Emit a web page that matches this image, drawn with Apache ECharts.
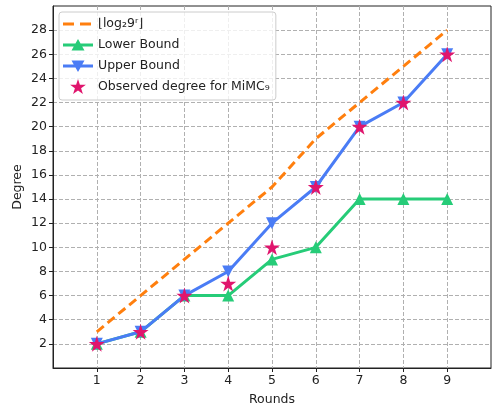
<!DOCTYPE html>
<html><head><meta charset="utf-8">
<script src="https://cdn.jsdelivr.net/npm/echarts@6/dist/echarts.min.js"></script>
<style>html,body{margin:0;padding:0;background:#fff}#c{width:493px;height:408px}</style>
</head><body><div id="c"></div>
<script>
const rounds = [1,2,3,4,5,6,7,8,9];
const floorLog = [3,6,9,12,15,19,22,25,28];
const lowerBound = [2,3,6,6,9,10,14,14,14];
const upperBound = [2,3,6,8,12,15,20,22,26];
const observed = [2,3,6,7,10,15,20,22,26];
const xTicks = [1,2,3,4,5,6,7,8,9];
const yTicks = [2,4,6,8,10,12,14,16,18,20,22,24,26,28];

const pair = (ys) => rounds.map((r,i)=>[r, ys[i]]);
const STAR = 'path://M50,2 L61.2,36 L97,36 L68,57 L79,91 L50,70 L21,91 L32,57 L3,36 L38.8,36 Z';
// legend icons drawn in a 30x16 box (corner anchors keep the box size)
const BOX = 'M0,0 L0.01,0 L0,0.01 Z M30,16 L29.99,16 L30,15.99 Z ';
const ICON_DASH = 'path://' + BOX + 'M0,6.5 L11,6.5 L11,9.5 L0,9.5 Z M17,6.5 L28,6.5 L28,9.5 L17,9.5 Z';
const ICON_UP = 'path://' + BOX + 'M0,6.5 L30,6.5 L30,9.5 L0,9.5 Z M15,2 L21.5,13.5 L8.5,13.5 Z';
const ICON_DOWN = 'path://' + BOX + 'M0,6.5 L30,6.5 L30,9.5 L0,9.5 Z M8.5,2.5 L21.5,2.5 L15,14 Z';
const ICON_STAR = 'path://' + BOX + 'M15,0 L16.9,5.7 L22.9,5.7 L18.1,9.2 L19.9,15 L15,11.4 L10.1,15 L11.9,9.2 L7.1,5.7 L13.1,5.7 Z';
const font = 'DejaVu Sans';
const chart = echarts.init(document.getElementById('c'), null, {renderer:'canvas'});
chart.setOption({
  animation:false,
  textStyle:{fontFamily:font},
  grid:{left:53, right:2, top:6, bottom:40, outerBoundsMode:'none', containLabel:false,
        show:true, borderColor:'#222', borderWidth:1, backgroundColor:'transparent'},
  legend:{
    orient:'vertical', left:59, top:12, padding:[4,6,5,4],
    backgroundColor:'rgba(255,255,255,0.8)', borderColor:'#cccccc', borderWidth:1, borderRadius:3,
    itemWidth:30, itemHeight:16, itemGap:5,
    itemStyle:{borderWidth:0},
    textStyle:{fontFamily:font, fontSize:12.5, color:'#222'},
    data:[
      {name:'⌊log₂9ʳ⌋', icon:ICON_DASH},
      {name:'Lower Bound', icon:ICON_UP},
      {name:'Upper Bound', icon:ICON_DOWN},
      {name:'Observed degree for MiMC₉', icon:ICON_STAR}
    ]
  },
  xAxis:{
    type:'value', min:0, max:10, interval:1,
    name:'Rounds', nameLocation:'middle', nameGap:25,
    nameTextStyle:{fontFamily:font, fontSize:12.5, color:'#222'},
    axisLine:{show:true, lineStyle:{color:'#222', width:1}},
    axisTick:{show:true, length:4, lineStyle:{color:'#222'}, customValues:xTicks},
    axisLabel:{fontFamily:font, fontSize:12.5, color:'#222', margin:6, customValues:xTicks},
    splitLine:{show:true, lineStyle:{color:'#b0b0b0', type:[4,2], width:1}}
  },
  yAxis:{
    type:'value', min:0, max:30, interval:2,
    name:'Degree', nameLocation:'middle', nameGap:29, nameRotate:90, nameMoveOverlap:false,
    nameTextStyle:{fontFamily:font, fontSize:12.5, color:'#222'},
    axisLine:{show:true, lineStyle:{color:'#222', width:1}},
    axisTick:{show:true, length:4, lineStyle:{color:'#222'}, customValues:yTicks},
    axisLabel:{fontFamily:font, fontSize:12.5, color:'#222', margin:6, customValues:yTicks},
    splitLine:{show:true, lineStyle:{color:'#b0b0b0', type:[4,2], width:1}}
  },
  series:[
    {name:'⌊log₂9ʳ⌋', type:'line', data:pair(floorLog), symbol:'none', z:2,
     lineStyle:{color:'#ff7f0e', width:3, type:[9,5]}, itemStyle:{color:'#ff7f0e'}},
    {name:'Lower Bound', type:'line', data:pair(lowerBound), symbol:'triangle', symbolSize:12, z:3,
     lineStyle:{color:'#26cc78', width:3}, itemStyle:{color:'#26cc78'}},
    {name:'Upper Bound', type:'line', data:pair(upperBound), symbol:'triangle', symbolRotate:180, symbolSize:12, z:4,
     lineStyle:{color:'#4a7cf5', width:3}, itemStyle:{color:'#4a7cf5'}},
    {name:'Observed degree for MiMC₉', type:'scatter', data:pair(observed), symbol:STAR, symbolSize:16, z:5,
     itemStyle:{color:'#e0156d', opacity:1}}
  ]
});
</script></body></html>
